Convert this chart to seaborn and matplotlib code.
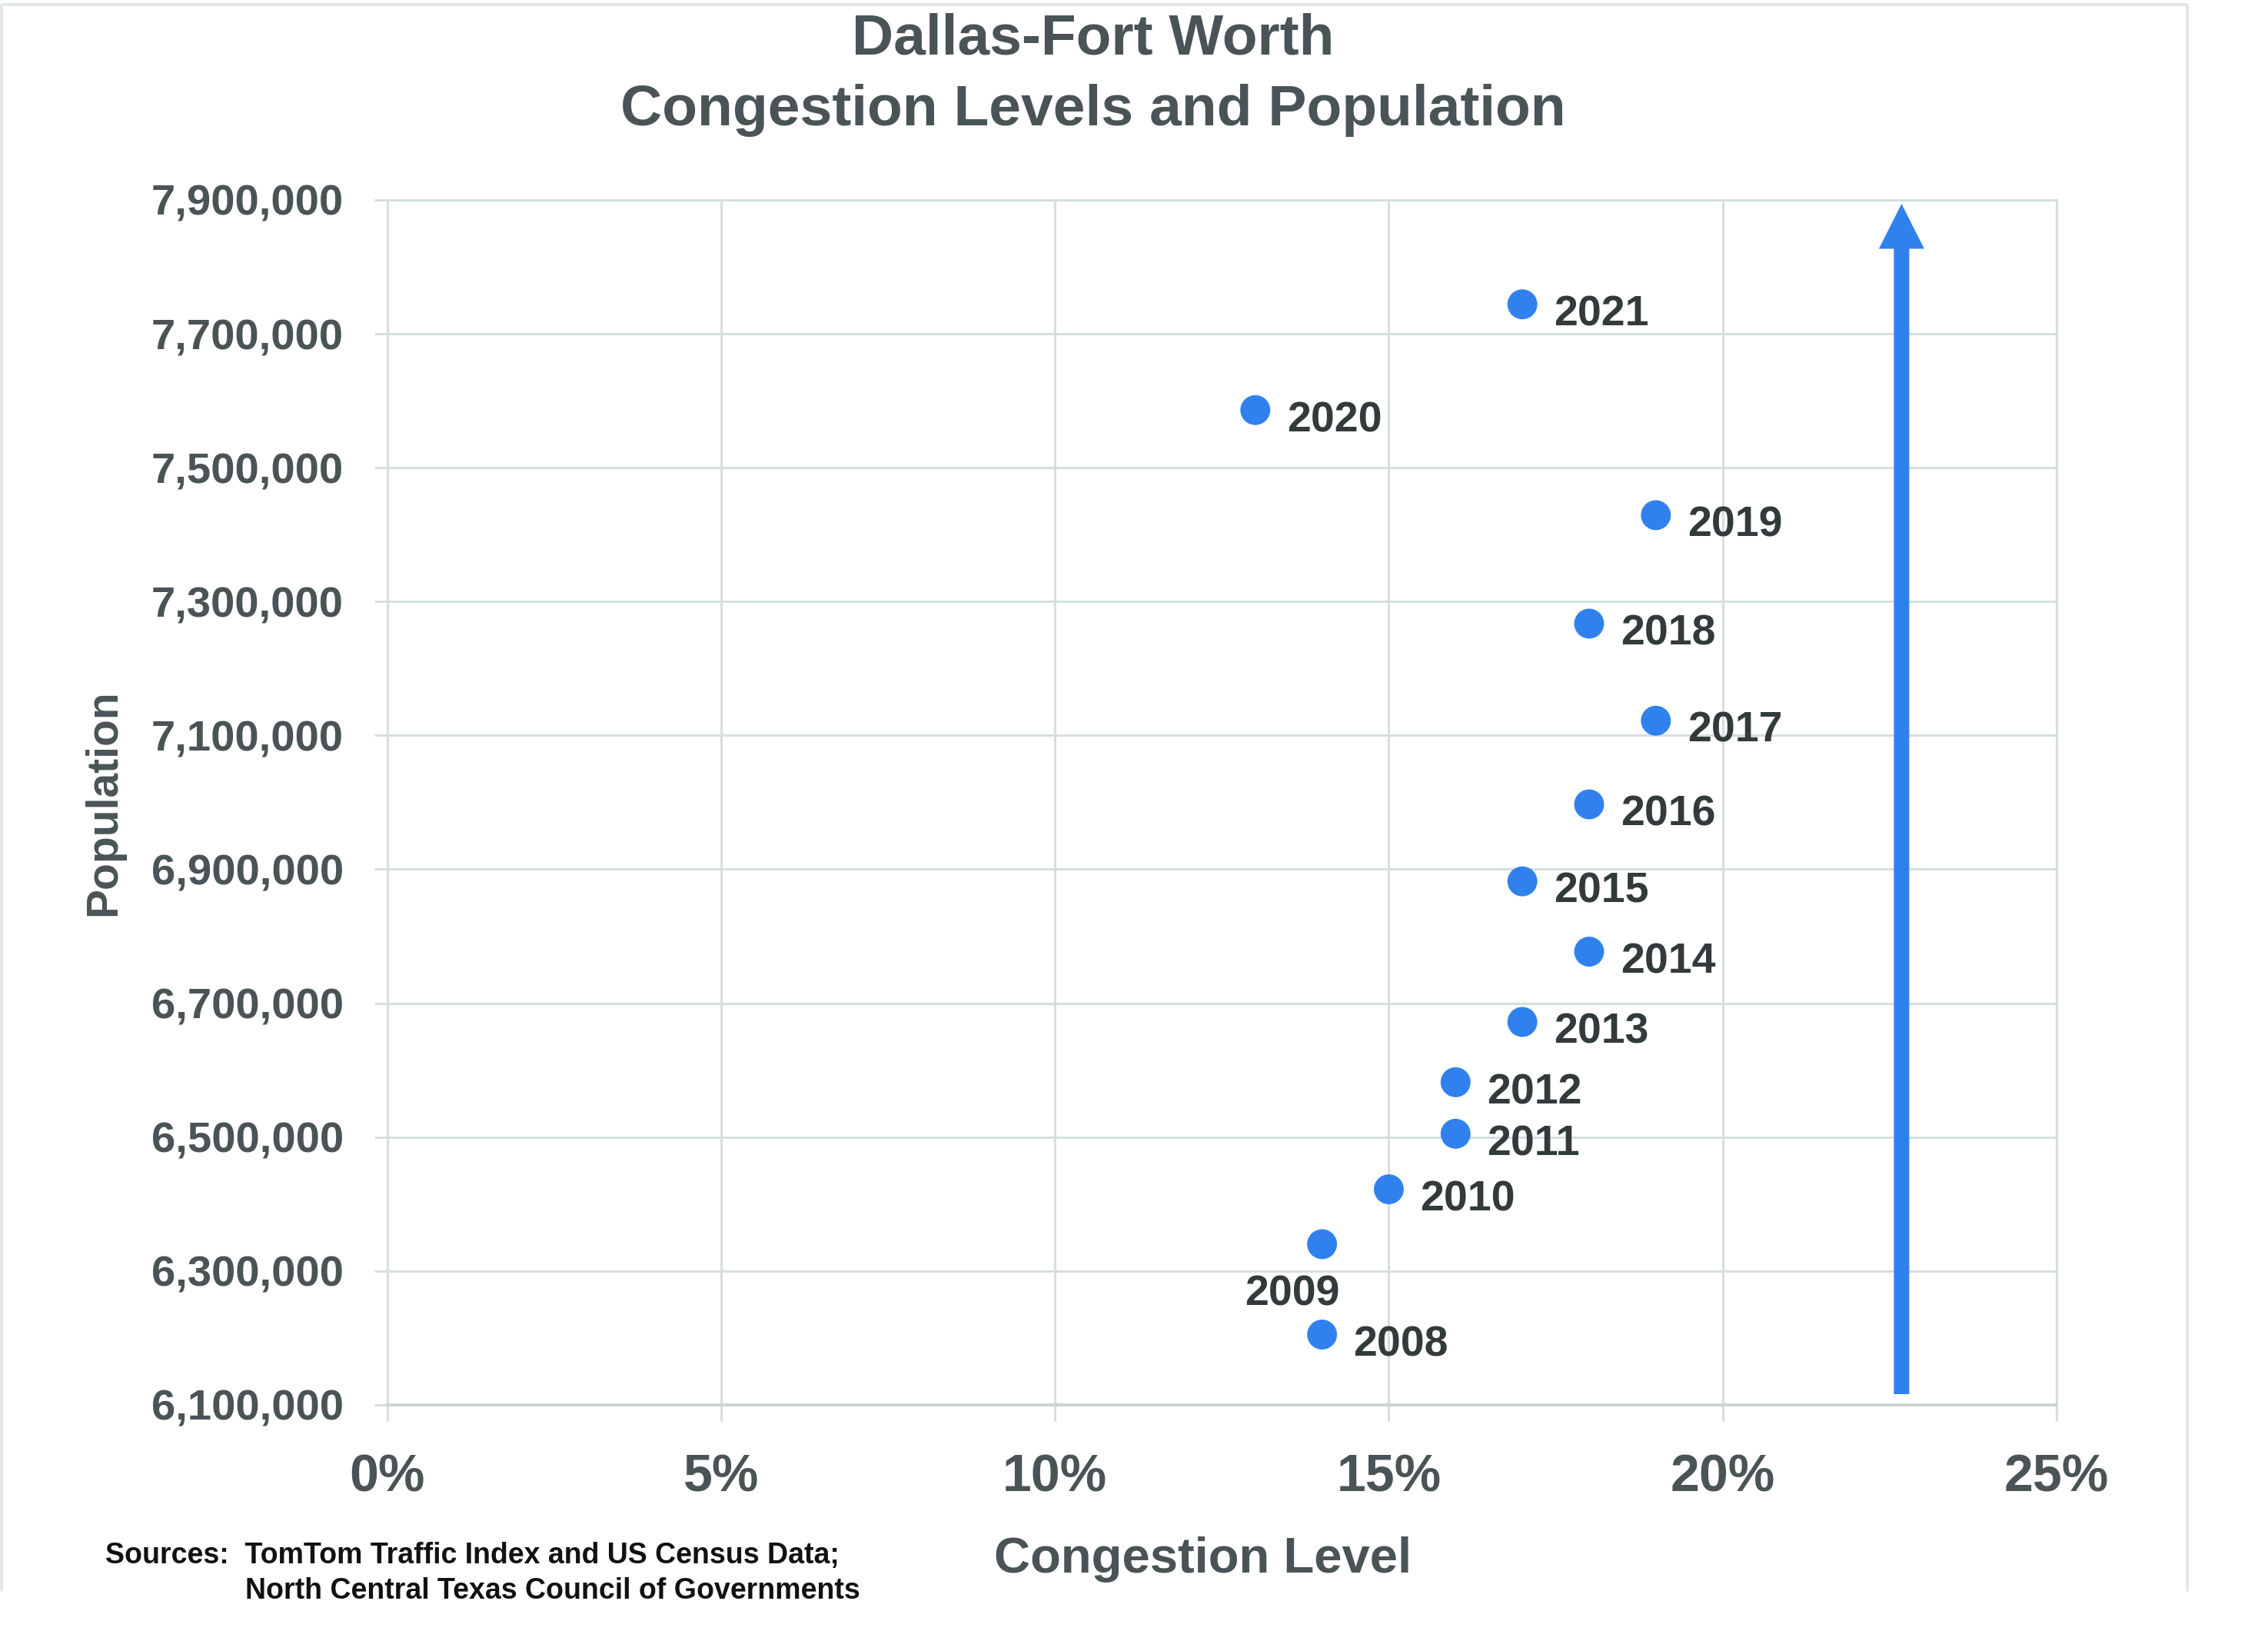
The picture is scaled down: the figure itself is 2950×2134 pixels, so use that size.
import matplotlib
matplotlib.use("Agg")
import matplotlib.pyplot as plt
from matplotlib.lines import Line2D
from matplotlib.ticker import FuncFormatter, MultipleLocator
import seaborn as sns
import pandas as pd

# ---------------- data ----------------
years = ["2008", "2009", "2010", "2011", "2012", "2013", "2014",
         "2015", "2016", "2017", "2018", "2019", "2020", "2021"]
congestion_pct = [14, 14, 15, 16, 16, 17, 18, 17, 18, 19, 18, 19, 13, 17]
population = [6205000, 6340000, 6422000, 6505000, 6582000, 6672000, 6777000,
              6882000, 6997000, 7122000, 7267000, 7429000, 7586000, 7744000]
x_ticks = [0, 5, 10, 15, 20, 25]
y_ticks = [6100000, 6300000, 6500000, 6700000, 6900000, 7100000, 7300000,
           7500000, 7700000, 7900000]
title_lines = ["Dallas-Fort Worth", "Congestion Levels and Population"]
x_label = "Congestion Level"
y_label = "Population"
source_lines = ["Sources:  TomTom Traffic Index and US Census Data;",
                "North Central Texas Council of Governments"]
# trend arrow (x in %, from/to population)
arrow_x = 22.68
arrow_from = 6116000
arrow_to = 7894000

df = pd.DataFrame({"year": years, "congestion": congestion_pct,
                   "population": population})

# ---------------- style ----------------
sns.set_theme(style="white")
plt.rcParams["font.family"] = ["Liberation Sans", "DejaVu Sans"]

BLUE = "#3081EE"
GRID = "#d6dede"
AXIS_TXT = "#4a5457"
LABEL_TXT = "#333a3b"

fig = plt.figure(figsize=(29.5, 21.34), dpi=100)
fig.patch.set_facecolor("white")
ax = fig.add_axes([0.1708, 0.1439, 0.73593, 0.73430])

sns.scatterplot(data=df, x="congestion", y="population", s=784,
                color=BLUE, edgecolor="none", linewidth=0, ax=ax, zorder=4,
                legend=False)

ax.set_xlim(x_ticks[0], x_ticks[-1])
ax.set_ylim(y_ticks[0], y_ticks[-1])
ax.set_xticks(x_ticks)
ax.set_yticks(y_ticks)
ax.xaxis.set_major_formatter(FuncFormatter(lambda v, p: f"{v:.0f}%"))
ax.yaxis.set_major_formatter(FuncFormatter(lambda v, p: f"{v:,.0f}"))

ax.grid(True, color=GRID, linewidth=2.2, zorder=0)
ax.set_axisbelow(True)
for side in ["left", "right", "top", "bottom"]:
    ax.spines[side].set_visible(True)
    ax.spines[side].set_color(GRID)
    ax.spines[side].set_linewidth(2.2)
ax.spines["bottom"].set_color("#cbd3d3")
ax.spines["bottom"].set_linewidth(2.8)

ax.tick_params(axis="x", which="major", direction="out", length=15,
               width=2.2, color=GRID, pad=30, labelsize=49,
               labelcolor=AXIS_TXT, bottom=True)
ax.tick_params(axis="y", which="major", direction="out", length=12,
               width=2.2, color=GRID, pad=29, labelsize=40.5,
               labelcolor=AXIS_TXT, left=True)
for lab in ax.get_xticklabels() + ax.get_yticklabels():
    lab.set_fontweight("bold")

ax.set_xlabel(x_label, fontsize=47, fontweight="bold", color=AXIS_TXT)
ax.xaxis.set_label_coords(0.4888, -0.109)
ax.set_ylabel(y_label, fontsize=41, fontweight="bold", color=AXIS_TXT)
ax.yaxis.set_label_coords(-0.1575, 0.5)

# year labels
for yr, cx, py in zip(df["year"], df["congestion"], df["population"]):
    if yr == "2009":
        off, ha = (-27.7, -57), "center"
    else:
        off, ha = (29.5, -20), "left"
    ax.annotate(yr, xy=(cx, py), xytext=off, textcoords="offset points",
                ha=ha, va="baseline", fontsize=40, fontweight="bold",
                color=LABEL_TXT, zorder=5)

# trend arrow
ax.annotate("", xy=(arrow_x, arrow_to), xytext=(arrow_x, arrow_from),
            arrowprops=dict(width=14.4, headwidth=42.5, headlength=42,
                            color=BLUE, shrink=0.0, linewidth=0),
            zorder=3)

# titles
fig.text(0.482, 0.9669, title_lines[0], ha="center", va="baseline",
         fontsize=54, fontweight="bold", color=AXIS_TXT)
fig.text(0.482, 0.9235, title_lines[1], ha="center", va="baseline",
         fontsize=54, fontweight="bold", color=AXIS_TXT)

# sources
fig.text(0.0466, 0.04733, source_lines[0], ha="left", va="baseline",
         fontsize=27, fontweight="bold", color="#111111")
fig.text(0.108, 0.02577, source_lines[1], ha="left", va="baseline",
         fontsize=27, fontweight="bold", color="#111111")

# outer frame (top, left, right)
fig.add_artist(Line2D([0.0008, 0.0008, 0.9644, 0.9644],
                      [0.0309, 0.9972, 0.9972, 0.0309],
                      transform=fig.transFigure, color="#dfe5e5",
                      linewidth=2.6))

fig.savefig("out.png", dpi=100)
